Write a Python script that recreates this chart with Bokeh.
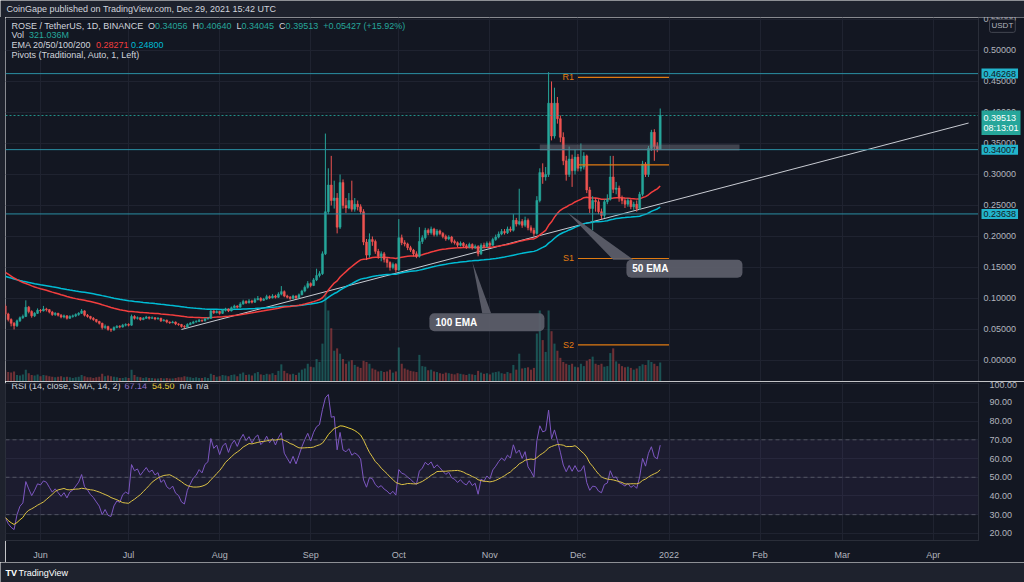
import pandas as pd
from bokeh.plotting import figure
from bokeh.layouts import column, row
from bokeh.models import (Range1d, FixedTicker, Label, Span, BoxAnnotation,
                          ColumnDataSource, NumeralTickFormatter, Spacer)
from bokeh.core.properties import value
from bokeh.embed import file_html
from bokeh.resources import INLINE

# ---------------- data ----------------
start_date = "2021-05-20"
first_open = 0.088
closes = [
    .075, .066, .060, .056, .064, .069, .071, .086, .079, .072,
    .076, .081, .080, .083, .082, .078, .074, .076, .073, .070,
    .072, .068, .071, .072, .074, .076, .080, .073, .071, .068,
    .066, .063, .060, .053, .055, .050, .049, .053, .055, .054,
    .057, .058, .057, .071, .068, .069, .066, .068, .070, .068,
    .069, .067, .068, .064, .065, .062, .061, .062, .059, .058,
    .055, .054, .058, .060, .062, .063, .065, .064, .067, .068,
    .080, .077, .079, .076, .081, .083, .080, .085, .088, .086,
    .091, .095, .093, .096, .094, .098, .100, .097, .099, .103,
    .101, .104, .102, .107, .111, .104, .102, .100, .104, .101,
    .106, .112, .118, .124, .121, .130, .137, .140, .172, .240,
    .283, .258, .262, .215, .287, .250, .246, .258, .244, .252,
    .248, .240, .191, .170, .195, .192, .176, .168, .172, .163,
    .158, .150, .155, .146, .198, .190, .188, .182, .178, .172,
    .168, .192, .198, .210, .206, .212, .203, .209, .205, .200,
    .196, .199, .192, .190, .186, .189, .185, .183, .187, .182,
    .184, .172, .186, .184, .189, .186, .195, .199, .204, .208,
    .206, .212, .210, .226, .220, .224, .218, .226, .214, .210,
    .205, .258, .303, .296, .300, .415, .362, .415, .390, .360,
    .322, .300, .325, .306, .328, .310, .312, .330, .275, .245,
    .258, .256, .240, .234, .256, .260, .296, .276, .278, .262,
    .258, .252, .258, .248, .252, .245, .268, .317, .300, .342,
    .368, .345, .34056, .39513]
highs = [
    .091, .077, .068, .062, .066, .071, .074, .097, .088, .081,
    .078, .084, .083, .088, .085, .083, .080, .078, .077, .075,
    .074, .073, .073, .074, .076, .078, .083, .081, .075, .072,
    .070, .067, .064, .061, .058, .056, .052, .055, .057, .057,
    .059, .060, .060, .074, .073, .071, .070, .070, .072, .071,
    .071, .070, .070, .069, .067, .066, .063, .064, .063, .060,
    .059, .057, .060, .062, .064, .065, .067, .066, .069, .070,
    .082, .081, .081, .080, .083, .085, .084, .087, .090, .089,
    .094, .098, .097, .099, .098, .101, .104, .102, .101, .106,
    .105, .107, .106, .110, .120, .113, .106, .104, .106, .105,
    .108, .114, .121, .128, .126, .133, .148, .144, .176, .366,
    .310, .330, .290, .270, .300, .292, .262, .270, .290, .262,
    .258, .252, .244, .196, .205, .200, .195, .180, .176, .175,
    .167, .160, .158, .157, .228, .203, .194, .190, .185, .180,
    .176, .215, .202, .214, .213, .216, .214, .212, .211, .207,
    .203, .202, .201, .195, .192, .192, .191, .188, .190, .189,
    .187, .186, .189, .190, .192, .192, .198, .203, .208, .212,
    .212, .216, .216, .236, .230, .277, .228, .232, .229, .218,
    .214, .265, .310, .318, .312, .465, .450, .440, .425, .395,
    .368, .330, .345, .332, .340, .333, .350, .336, .332, .280,
    .265, .262, .260, .245, .260, .268, .330, .330, .288, .282,
    .266, .262, .262, .260, .256, .258, .272, .322, .320, .346,
    .372, .373, .352, .4064]
lows = [
    .073, .063, .055, .050, .054, .062, .067, .070, .076, .069,
    .070, .075, .077, .079, .079, .076, .072, .072, .071, .068,
    .068, .066, .067, .069, .070, .072, .075, .071, .069, .066,
    .064, .061, .058, .050, .051, .048, .046, .048, .052, .052,
    .053, .055, .055, .056, .066, .066, .064, .065, .067, .066,
    .067, .065, .066, .062, .063, .060, .059, .060, .057, .056,
    .053, .052, .053, .057, .059, .061, .062, .062, .063, .066,
    .067, .075, .076, .074, .075, .079, .078, .079, .084, .084,
    .085, .090, .091, .092, .092, .093, .097, .095, .096, .098,
    .099, .100, .100, .101, .105, .102, .100, .098, .099, .099,
    .100, .105, .110, .116, .118, .120, .128, .134, .138, .170,
    .236, .250, .245, .205, .212, .245, .238, .244, .240, .240,
    .242, .236, .186, .162, .166, .185, .172, .164, .160, .158,
    .150, .145, .147, .142, .144, .186, .184, .178, .175, .168,
    .165, .166, .188, .195, .202, .203, .200, .200, .202, .197,
    .193, .194, .189, .187, .183, .184, .182, .180, .181, .179,
    .180, .168, .170, .181, .182, .183, .185, .193, .197, .202,
    .203, .204, .207, .208, .216, .218, .214, .215, .210, .206,
    .200, .203, .255, .285, .290, .296, .355, .358, .382, .352,
    .315, .290, .296, .280, .300, .305, .305, .308, .270, .238,
    .210, .240, .236, .228, .230, .252, .258, .270, .268, .256,
    .252, .246, .248, .244, .243, .240, .243, .265, .296, .296,
    .338, .322, .336, .34045]
volumes_m = [
    190, 160, 150, 170, 110, 100, 120, 200, 140, 110,
    100, 120, 90, 110, 100, 90, 80, 70, 80, 90,
    70, 80, 70, 60, 70, 80, 110, 90, 70, 70,
    60, 70, 80, 130, 90, 100, 90, 80, 70, 60,
    60, 70, 60, 200, 110, 80, 70, 60, 70, 60,
    60, 50, 50, 60, 50, 60, 50, 50, 60, 70,
    70, 90, 80, 70, 60, 70, 60, 60, 70, 60,
    130, 110, 80, 90, 110, 100, 90, 110, 120, 90,
    130, 150, 110, 120, 100, 140, 160, 120, 110, 130,
    120, 140, 110, 180, 290, 180, 140, 120, 130, 110,
    150, 200, 220, 300, 250, 240, 380, 330, 640, 1490,
    1200, 900, 520, 560, 470, 380, 300, 340, 360, 280,
    250, 230, 350, 330, 300, 220, 200, 170, 180, 160,
    170, 200, 150, 170, 575, 300, 220, 200, 180, 170,
    160, 450, 260, 250, 190, 200, 170, 160, 140, 130,
    150, 140, 130, 120, 140, 130, 120, 110, 130, 120,
    110, 180, 150, 130, 140, 120, 150, 160, 170, 140,
    130, 160, 140, 280, 200, 470, 220, 230, 240, 200,
    230, 810, 1200, 700, 500, 1200, 850, 640, 520, 400,
    330, 300, 280, 300, 250, 240, 300, 260, 350, 380,
    420, 300, 280, 300, 250, 260, 480, 560, 340, 300,
    260, 240, 250, 230, 200, 220, 260, 290, 280, 360,
    330, 300, 260, 321]

ema50_seed = 0.145
ema100_seed = 0.137
rsi_seed_gain = 0.0016
rsi_seed_loss = 0.0030

# values printed in the chart's legends
ohlc_text = ["0.34056", "0.40640", "0.34045", "0.39513"]
change_text = "+0.05427 (+15.92%)"
volume_text = "321.036M"
ema_text = ["0.28271", "0.24800"]
rsi_text = ["67.14", "54.50"]

price_ticks = [0.0, 0.05, 0.10, 0.15, 0.20, 0.25, 0.30, 0.35, 0.40, 0.45, 0.50, 0.55]
rsi_ticks = [20, 30, 40, 50, 60, 70, 80, 90, 100]
month_dates = ["2021-06-01", "2021-07-01", "2021-08-01", "2021-09-01", "2021-10-01",
               "2021-11-01", "2021-12-01", "2022-01-01", "2022-02-01", "2022-03-01",
               "2022-04-01"]
month_labels = ["Jun", "Jul", "Aug", "Sep", "Oct", "Nov", "Dec", "2022", "Feb", "Mar", "Apr"]

level_prices = [0.46268, 0.34007, 0.23638]
last_price = 0.39513
countdown = "08:13:01"
quote_unit = "USDT"
pivot_names = ["R1", "", "S1", "S2"]
pivot_values = [0.4565, 0.3156, 0.1645, 0.0253]
pivot_start, pivot_end = "2021-12-01", "2022-01-01"
zone_start, zone_end = "2021-11-18", "2022-01-25"
zone_low, zone_high = 0.3387, 0.3484
trend_dates = ["2021-07-19", "2022-04-13"]
trend_prices = [0.050, 0.383]

callout_text = ["50 EMA", "100 EMA"]
callout_left = ["2021-12-17 12:00", "2021-10-11 10:00"]
callout_right = ["2022-01-26", "2021-11-19 14:00"]
callout_top = [0.1624, 0.0763]
callout_bottom = [0.1334, 0.0473]
callout_tip_date = ["2021-11-27 07:00", "2021-10-26 02:00"]
callout_tip_price = [0.2392, 0.158]
callout_base_left = ["2021-12-13", "2021-10-29 10:00"]
callout_base_right = ["2021-12-19 22:00", "2021-11-01 10:00"]
callout_text_date = ["2021-12-19 12:00", "2021-10-13 12:00"]
callout_text_price = [0.1484, 0.0618]

# ---------------- layout / style ----------------
x_start, x_edge = "2021-05-20 02:00", "2022-04-16 09:00"   # plot frame left / price-scale edge
PX_PER_DAY = 2.937
AXIS_W = 46
BG = "#131722"
FRAME = "#1e222d"
GRID = "#1f2330"
SEP = "#2a2e39"
TXT = "#d1d4dc"
AX = "#b2b5be"
GREEN = "#26a69a"
RED = "#ef5350"
EMA50_C = "#f23e3e"
EMA100_C = "#00bcd4"
CYAN_LBL = "#22b4cc"
ORANGE = "#e07b12"
FONT = "Liberation Sans"
DAY = 86400000.0


def ms(s):
    return pd.Timestamp(s).value / 1e6


def edge_plus(px):
    return ms(x_edge) + px / PX_PER_DAY * DAY


CW = {c: 0.556 for c in "0123456789"}
CW.update({".": .278, ",": .278, " ": .278, "/": .278, "(": .333, ")": .333, "+": .584,
           "%": .889, "-": .333, ":": .278, "i": .222, "l": .222, "j": .222, "t": .278,
           "f": .278, "r": .333, "m": .833, "w": .722, "I": .278, "M": .833, "W": .944,
           "O": .778, "C": .722, "H": .722, "N": .722, "D": .722, "R": .722, "U": .722,
           "G": .778, "L": .556, "T": .611, "E": .667, "S": .667, "A": .667, "B": .667,
           "V": .667, "P": .667})


def tw(s, size):
    return sum(CW.get(c, 0.667 if c.isupper() else 0.5) for c in s) * size


def ema(vals, seed, n):
    a = 2.0 / (n + 1)
    e, out = seed, []
    for v in vals:
        e = a * v + (1 - a) * e
        out.append(e)
    return out


def rsi_wilder(vals, prev, g, l, n=14):
    out = []
    for v in vals:
        d = v - prev
        g = (g * (n - 1) + max(d, 0)) / n
        l = (l * (n - 1) + max(-d, 0)) / n
        out.append(100 - 100 / (1 + g / l) if l > 0 else 100.0)
        prev = v
    return out


dates = pd.date_range(start_date, periods=len(closes), freq="D")
opens = [first_open] + closes[:-1]
is_up = [c >= o for o, c in zip(opens, closes)]
src = ColumnDataSource(dict(
    date=dates, open=opens, close=closes, high=highs, low=lows,
    top=[max(o, c) for o, c in zip(opens, closes)],
    bottom=[min(o, c) for o, c in zip(opens, closes)],
    color=[GREEN if u else RED for u in is_up],
    vol=volumes_m,
))
ema50 = ema(closes, ema50_seed, 50)
ema100 = ema(closes, ema100_seed, 100)
rsi = rsi_wilder(closes, first_open, rsi_seed_gain, rsi_seed_loss)
rsi_sma = list(pd.Series(rsi).rolling(14, min_periods=1).mean())
month_ms = [ms(d) for d in month_dates]


def legend_line(fig, x, y, parts, size=9):
    for text, color in parts:
        fig.add_layout(Label(x=x, y=y, x_units="screen", y_units="screen", text=text.strip(),
                             text_font=FONT, text_font_size=f"{size}px", text_color=color,
                             text_baseline="middle", level="overlay"))
        x += tw(text, size)


# ---------------- header ----------------
hdr = figure(width=1024, height=17, x_range=(0, 1), y_range=(0, 1), toolbar_location=None,
             output_backend="svg", x_axis_location=None, y_axis_location=None,
             background_fill_color=FRAME, border_fill_color=FRAME, outline_line_color=None,
             min_border_left=0, min_border_right=0, min_border_top=0, min_border_bottom=0)
hdr.grid.visible = False
legend_line(hdr, 6, 8.5, [("CoinGape published on TradingView.com, Dec 29, 2021 15:42 UTC", TXT)])

# ---------------- price pane (frame runs under the price scale) ----------------
p = figure(width=1019, height=364, x_axis_type="datetime",
           x_range=Range1d(ms(x_start), edge_plus(AXIS_W)),
           y_range=Range1d(-0.0339, 0.5532), x_axis_location=None, y_axis_location=None,
           toolbar_location=None, output_backend="svg",
           background_fill_color=BG, border_fill_color=BG, outline_line_color=None,
           min_border_left=0, min_border_right=0, min_border_top=0, min_border_bottom=0)
p.frame_align = False
p.xgrid.ticker = FixedTicker(ticks=month_ms)
p.ygrid.ticker = FixedTicker(ticks=price_ticks)
p.xgrid.grid_line_color = GRID
p.ygrid.grid_line_color = GRID

p.extra_y_ranges = {"vol": Range1d(0, 6150)}
p.vbar(x="date", width=0.7 * DAY, top="vol", bottom=0, y_range_name="vol",
       fill_color="color", fill_alpha=0.42, line_color=None, source=src)

p.line(x=[ms(d) for d in trend_dates], y=trend_prices, line_color="#c9ccd3", line_width=1)
p.line(x=dates, y=ema100, line_color=EMA100_C, line_width=1.5)
p.line(x=dates, y=ema50, line_color=EMA50_C, line_width=1.5)

p.segment(x0="date", x1="date", y0="low", y1="high", line_color="color", line_width=1, source=src)
p.vbar(x="date", width=0.68 * DAY, top="top", bottom="bottom", fill_color="color",
       line_color="color", line_width=0.5, source=src)

p.segment(x0=[ms(x_start)] * len(level_prices), x1=[ms(x_edge)] * len(level_prices),
          y0=level_prices, y1=level_prices, line_color="#2a8fa3", line_width=1)
p.segment(x0=[ms(x_start)], x1=[ms(x_edge)], y0=[last_price], y1=[last_price],
          line_color=GREEN, line_dash="2 2", line_width=1, line_alpha=0.85)

p.quad(left=[ms(zone_start)], right=[ms(zone_end)], top=[zone_high], bottom=[zone_low],
       fill_color="#787b86", fill_alpha=0.45, line_color=None)

p.segment(x0=[ms(pivot_start)] * len(pivot_values), x1=[ms(pivot_end)] * len(pivot_values),
          y0=pivot_values, y1=pivot_values, line_color=ORANGE, line_width=1.2)
p.text(x=[ms(pivot_start)] * len(pivot_values), y=pivot_values, text=pivot_names,
       x_offset=-4, text_align="right", text_baseline="middle", text_color=ORANGE,
       text_font=value(FONT), text_font_size="9px")

for i in range(len(callout_text)):
    p.patch(x=[ms(callout_tip_date[i]), ms(callout_base_left[i]), ms(callout_base_right[i])],
            y=[callout_tip_price[i], callout_top[i], callout_top[i]],
            fill_color="#5d606b", fill_alpha=0.92, line_color=None)
    p.add_layout(BoxAnnotation(left=ms(callout_left[i]), right=ms(callout_right[i]),
                               top=callout_top[i], bottom=callout_bottom[i],
                               fill_color="#5d606b", fill_alpha=0.92, line_color=None,
                               border_radius=5))
p.text(x=[ms(d) for d in callout_text_date], y=callout_text_price, text=callout_text,
       text_align="left", text_baseline="middle", text_color="#ffffff",
       text_font=value(FONT), text_font_size="10px", text_font_style="bold", level="overlay")

# price scale column
p.add_layout(BoxAnnotation(left=ms(x_edge), right=edge_plus(AXIS_W + 5), fill_color=BG,
                           fill_alpha=1.0, line_color=None))
p.add_layout(Span(location=ms(x_edge), dimension="height", line_color=SEP, line_width=1,
                  level="overlay"))
p.text(x=[edge_plus(5)] * len(price_ticks), y=price_ticks,
       text=[f"{v:.5f}" for v in price_ticks], text_align="left", text_baseline="middle",
       text_color=AX, text_font=value(FONT), text_font_size="9px", level="overlay")
for lv in level_prices:
    p.add_layout(Label(x=edge_plus(3), y=lv, text=f"{lv:.5f}", text_font=FONT,
                       text_font_size="9px", text_color="#131722", text_baseline="middle",
                       background_fill_color=CYAN_LBL, padding=2, level="overlay"))
p.add_layout(Label(x=edge_plus(3), y=last_price, y_offset=5,
                   text=f"{last_price:.5f}\n{countdown}", text_font=FONT, text_font_size="9px",
                   text_color="#ffffff", text_baseline="top", background_fill_color=GREEN,
                   padding=2, text_line_height=1.05, level="overlay"))
p.add_layout(Label(x=edge_plus(11), y=0.5397, text=quote_unit, text_font=FONT,
                   text_font_size="8px", text_color=AX, text_baseline="middle",
                   background_fill_color=BG, border_line_color="#434651", padding=2,
                   border_radius=2, level="overlay"))

# legend texts (frame coordinates, y from bottom)
legend_line(p, 6, 356, [("ROSE / TetherUS, 1D, BINANCE  ", TXT), ("O", TXT), (ohlc_text[0] + "  ", GREEN),
                        ("H", TXT), (ohlc_text[1] + "  ", GREEN), ("L", TXT), (ohlc_text[2] + "  ", GREEN),
                        ("C", TXT), (ohlc_text[3] + "  ", GREEN), (change_text, GREEN)])
legend_line(p, 6, 346.5, [("Vol  ", TXT), (volume_text, GREEN)])
legend_line(p, 6, 337, [("EMA 20/50/100/200  ", TXT), (ema_text[0] + " ", EMA50_C),
                        (ema_text[1], EMA100_C)])
legend_line(p, 6, 327, [("Pivots (Traditional, Auto, 1, Left)", TXT)])

# ---------------- RSI pane ----------------
r = figure(width=1019, height=181, x_axis_type="datetime",
           x_range=Range1d(ms(x_start), ms(x_edge)),
           y_range=Range1d(16.2, 100.1), y_axis_location="right",
           toolbar_location=None, output_backend="svg",
           background_fill_color=BG, border_fill_color=BG, outline_line_color=SEP,
           min_border_left=0, min_border_right=AXIS_W, min_border_top=2, min_border_bottom=16)
r.frame_align = False
r.xgrid.ticker = FixedTicker(ticks=month_ms)
r.xgrid.grid_line_color = GRID
r.ygrid.grid_line_color = GRID
r.yaxis.ticker = FixedTicker(ticks=rsi_ticks)
r.yaxis.formatter = NumeralTickFormatter(format="0.00")
r.xaxis.ticker = FixedTicker(ticks=month_ms)
r.xaxis.major_label_overrides = {m: t for m, t in zip(month_ms, month_labels)}
for ax in (r.xaxis, r.yaxis):
    ax.major_tick_line_color = None
    ax.minor_tick_line_color = None
    ax.axis_line_color = SEP
    ax.major_label_text_color = AX
    ax.major_label_text_font_size = "9px"
    ax.major_label_text_font = FONT
r.yaxis.major_label_standoff = 5
r.xaxis.major_label_standoff = 3

r.add_layout(BoxAnnotation(bottom=30, top=70, fill_color="#7e57c2", fill_alpha=0.09, line_color=None))
for lv in (70, 50, 30):
    r.add_layout(Span(location=lv, dimension="width", line_color="#787b86", line_alpha=0.55,
                      line_dash="4 3", line_width=1))
r.line(x=dates, y=rsi, line_color="#7e57c2", line_width=1)
r.line(x=dates, y=rsi_sma, line_color="#e6cc3a", line_width=1)

legend_line(r, 6, 155, [("RSI (14, close, SMA, 14, 2)  ", TXT), (rsi_text[0] + "  ", "#9575cd"),
                        (rsi_text[1] + "  ", "#e6cc3a"), ("n/a  ", TXT), ("n/a", TXT)])

# ---------------- footer ----------------
ftr = figure(width=1024, height=20, x_range=(0, 1), y_range=(0, 1), toolbar_location=None,
             output_backend="svg", x_axis_location=None, y_axis_location=None,
             background_fill_color=FRAME, border_fill_color=FRAME, outline_line_color=None,
             min_border_left=0, min_border_right=0, min_border_top=0, min_border_bottom=0)
ftr.grid.visible = False
ftr.add_layout(Label(x=5, y=10, x_units="screen", y_units="screen", text="TV",
                     text_font=FONT, text_font_size="9px", text_font_style="bold",
                     text_color="#ffffff", text_baseline="middle"))
ftr.add_layout(Label(x=18, y=10, x_units="screen", y_units="screen", text="TradingView",
                     text_font=FONT, text_font_size="9px", text_color="#ffffff",
                     text_baseline="middle"))

side = Spacer(width=5, height=545, styles={"background-color": FRAME})
layout = column(hdr, row(side, column(p, r)), ftr)

open("out.html", "w").write(file_html(layout, INLINE))
